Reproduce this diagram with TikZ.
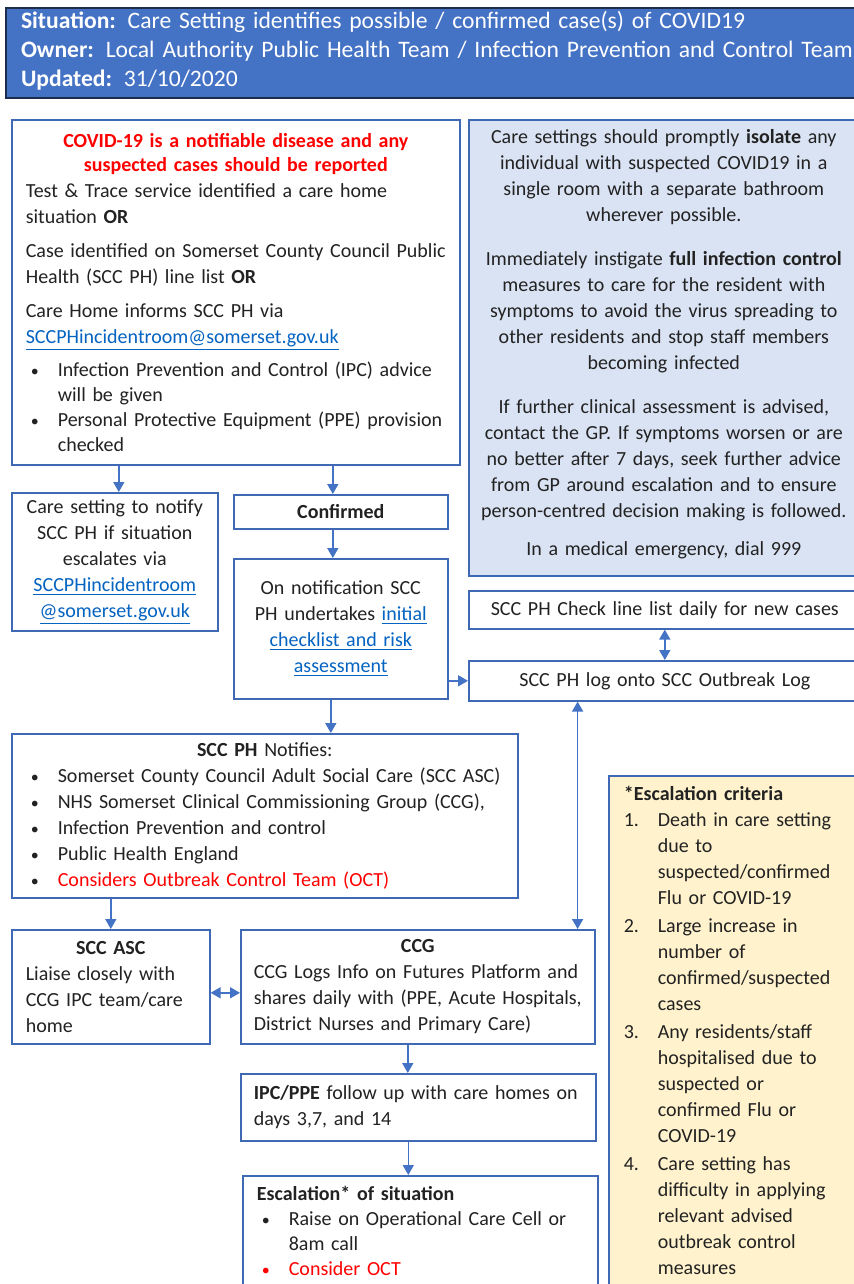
\documentclass[tikz,border=0pt]{standalone}
\usepackage{fontspec}
\setmainfont{Carlito}
\usetikzlibrary{arrows.meta}
\definecolor{hdrblue}{HTML}{4472C4}
\definecolor{hdrline}{HTML}{1F2D4D}
\definecolor{boxline}{HTML}{3F68B5}
\definecolor{arrblue}{HTML}{4472C4}
\definecolor{infofill}{HTML}{DAE3F3}
\definecolor{critfill}{HTML}{FFF2CC}
\definecolor{alert}{HTML}{FF0000}
\definecolor{linkblue}{HTML}{0563C1}
\definecolor{bodytext}{HTML}{222222}
\newcommand{\bodyfont}{\fontsize{10}{13}\selectfont}
\newcommand{\headfont}{\fontsize{11.8}{14.5}\selectfont}
\newcommand{\lnk}[1]{\textcolor{linkblue}{\underline{#1}}}
\newcommand{\bitem}[2][bodytext]{\par\hangindent=16pt\hangafter=1\noindent\hbox to 16pt{\hspace{2.5pt}\textcolor{#1}{\fontsize{8}{8}\selectfont\textbullet}\hfil}#2\par}
\newcommand{\nitem}[2]{\par\hangindent=17pt\hangafter=1\noindent\hbox to 17pt{#1\hfil}#2\par\vspace{1pt}}
\tikzset{
  box/.style={draw=boxline, line width=0.8pt, anchor=north west, inner xsep=7pt, inner ysep=3pt, text=bodytext, font=\bodyfont},
  arr/.style={draw=arrblue, line width=0.8pt, -{Triangle[length=5pt,width=5.5pt]}},
  arrboth/.style={arr, {Triangle[length=5pt,width=5.5pt]}-{Triangle[length=5pt,width=5.5pt]}}
}
\begin{document}
\begin{tikzpicture}[x=0.5pt,y=-0.5pt]
    \useasboundingbox (0,0) rectangle (854,1284);
    \clip (0,0) rectangle (854,1284);
    \fill[white] (0,0) rectangle (854,1284);
    \node[box, draw=hdrline, fill=hdrblue, text=white, line width=1pt, minimum width=440pt, minimum height=45pt, text width=425pt, inner xsep=7.5pt, inner ysep=0.5pt, align=left, font=\headfont] (title) at (5,7) {\textbf{Situation:} Care Setting identifies possible / confirmed case(s) of COVID19\\ \textbf{Owner:} Local Authority Public Health Team / Infection Prevention and Control Team\\ \textbf{Updated:} 31/10/2020\par\vspace{2pt}};
    \node[box, minimum width=224pt, minimum height=172.5pt, text width=210pt, align=left] (cases) at (11,119) {{\centering\fontsize{10}{12}\selectfont\color{alert}\bfseries COVID-19 is a notifiable disease and any\\ suspected cases should be reported\par} Test \& Trace service identified a care home\\ situation \textbf{OR}\par\vspace{4pt} Case identified on Somerset County Council Public\\ Health (SCC PH) line list \textbf{OR}\par\vspace{4pt} Care Home informs SCC PH via\\ \lnk{SCCPHincidentroom@somerset.gov.uk}\par\vspace{4pt}\fontsize{10}{12.5}\selectfont\bitem{Infection Prevention and Control (IPC) advice\newline will be given}\bitem{Personal Protective Equipment (PPE) provision\newline checked}};
    \node[box, fill=infofill, minimum width=195pt, minimum height=228pt, text width=185pt, inner xsep=5pt, align=center] (isolate) at (468,119) {Care settings should promptly \textbf{isolate} any\\ individual with suspected COVID19 in a\\ single room with a separate bathroom\\ wherever possible.\par\vspace{9pt} Immediately instigate \textbf{full infection control}\\ measures to care for the resident with\\ symptoms to avoid the virus spreading to\\ other residents and stop staff members\\ becoming infected\par\vspace{9pt} If further clinical assessment is advised,\\ contact the GP. If symptoms worsen or are\\ no better after 7 days, seek further advice\\ from GP around escalation and to ensure\\ person-centred decision making is followed.\par\vspace{6pt} In a medical emergency, dial 999\par\vspace{4pt}};
    \node[box, minimum width=103pt, minimum height=69pt, text width=95pt, inner xsep=4pt, align=center] (notify) at (11,492) {Care setting to notify\\ SCC PH if situation\\ escalates via\\ \lnk{SCCPHincidentroom}\\ \lnk{@somerset.gov.uk}};
    \node[box, minimum width=107pt, minimum height=17pt, text width=99pt, inner xsep=4pt, align=center] (confirmed) at (233,494) {\textbf{Confirmed}};
    \node[box, minimum width=107pt, minimum height=70pt, text width=99pt, inner xsep=4pt, align=center] (initial) at (233,558) {On notification SCC\\ PH undertakes \lnk{initial}\\ \lnk{checklist and risk}\\ \lnk{assessment}};
    \node[box, minimum width=196pt, minimum height=19pt, text width=186pt, inner xsep=5pt, align=center] (daily) at (468,590) {SCC PH Check line list daily for new cases};
    \node[box, minimum width=196pt, minimum height=20pt, text width=186pt, inner xsep=5pt, align=center] (outlog) at (468,660) {SCC PH log onto SCC Outbreak Log};
    \node[box, minimum width=253pt, minimum height=82pt, text width=239pt, align=left] (notifies) at (11,733) {{\centering\textbf{SCC PH} Notifies:\par}\bitem{Somerset County Council Adult Social Care (SCC ASC)}\bitem{NHS Somerset Clinical Commissioning Group (CCG),}\bitem{Infection Prevention and control}\bitem{Public Health England}\bitem{\textcolor{alert}{Considers Outbreak Control Team (OCT)}}};
    \node[box, minimum width=99pt, minimum height=57pt, text width=85pt, align=left] (asc) at (11,929) {{\centering\textbf{SCC ASC}\par} Liaise closely with\\ CCG IPC team/care\\ home};
    \node[box, minimum width=177pt, minimum height=57pt, text width=164pt, inner xsep=6.5pt, align=left] (ccg) at (240,929) {{\centering\textbf{CCG}\par} CCG Logs Info on Futures Platform and\\ shares daily with (PPE, Acute Hospitals,\\ District Nurses and Primary Care)};
    \node[box, minimum width=177.5pt, minimum height=33.5pt, text width=164.5pt, inner xsep=6.5pt, align=left] (followup) at (240,1073) {\textbf{IPC/PPE} follow up with care homes on\\ days 3,7, and 14};
    \node[box, minimum width=177.5pt, text width=163.5pt, inner ysep=5pt, align=left] (escal) at (242,1175) {\textbf{Escalation* of situation}\par\fontsize{10}{12.5}\selectfont\bitem{Raise on Operational Care Cell or\newline 8am call}\bitem[alert]{\textcolor{alert}{Consider OCT}}\vspace*{16pt}};
    \node[box, fill=critfill, minimum width=131pt, text width=116pt, inner xsep=7.5pt, inner ysep=5pt, align=left] (criteria) at (608,775) {\textbf{*Escalation criteria}\par\nitem{1.}{Death in care setting\newline due to\newline suspected/confirmed\newline Flu or COVID-19}\nitem{2.}{Large increase in\newline number of\newline confirmed/suspected\newline cases}\nitem{3.}{Any residents/staff\newline hospitalised due to\newline suspected or\newline confirmed Flu or\newline COVID-19}\nitem{4.}{Care setting has\newline difficulty in applying\newline relevant advised\newline outbreak control\newline measures}\vspace*{20pt}};
    \draw[arr] ([xshift=2pt]notify.north |- cases.south) -- ([xshift=2pt]notify.north);
    \draw[arr] ([xshift=-4pt]confirmed.north |- cases.south) -- ([xshift=-4pt]confirmed.north);
    \draw[arr] ([xshift=-4pt]confirmed.south) -- ([xshift=-4pt]initial.north);
    \draw[arr] (initial.east |- outlog.west) -- (outlog.west);
    \draw[arrboth] (daily.south) -- (outlog.north);
    \draw[arrboth] ([xshift=-9pt]ccg.north east |- outlog.south) -- ([xshift=-9pt]ccg.north east);
    \draw[arr] ([xshift=-5pt]initial.south) -- ([xshift=-5pt]initial.south |- notifies.north);
    \draw[arr] (asc.north |- notifies.south) -- (asc.north);
    \draw[arrboth] ([yshift=-3pt]asc.east) -- ([yshift=-3pt]asc.east -| ccg.west);
    \draw[arr] ([xshift=-5pt]ccg.south) -- ([xshift=-5pt]ccg.south |- followup.north);
    \draw[arr] ([xshift=-5pt]followup.south) -- ([xshift=-5pt]followup.south |- escal.north);
\end{tikzpicture}
\end{document}
